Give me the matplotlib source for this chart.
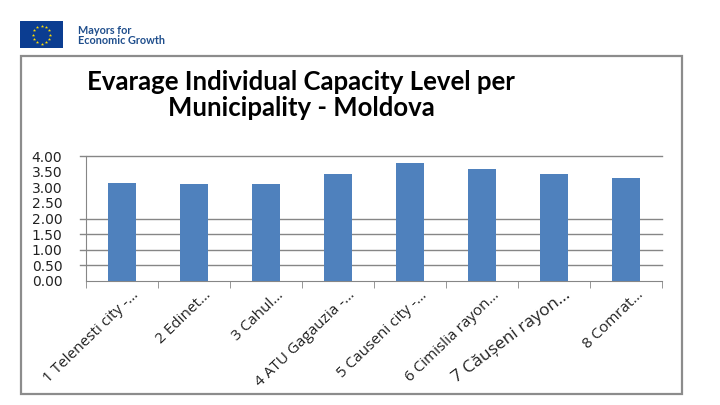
import numpy as np
import matplotlib
matplotlib.use("Agg")
import matplotlib.pyplot as plt
from matplotlib.patches import Rectangle
import matplotlib.transforms as mtransforms

# data
categories = ["1 Telenesti city -…", "2 Edinet…", "3 Cahul…", "4 ATU Gagauzia -…",
              "5 Causeni city -…", "6 Cimislia rayon…", "7 Căușeni rayon…", "8 Comrat…"]
values = [3.15, 3.09, 3.09, 3.41, 3.79, 3.60, 3.41, 3.31]
ytick_vals = [0.0, 0.5, 1.0, 1.5, 2.0, 2.5, 3.0, 3.5, 4.0]
grid_vals = [0.5, 1.0, 1.5, 2.0, 4.0]   # only these lines show in the picture
label_sizes = [11, 11, 11, 11, 11, 11, 12.5, 11]
label_rot = [44, 44, 44, 44, 44, 44, 37, 44]

title = "Evarage Individual Capacity Level per\nMunicipality - Moldova"
bar_color = "#4F81BD"
grid_color = "#868686"

W, H = 720, 405
fig = plt.figure(figsize=(7.2, 4.05), dpi=100)
fig.patch.set_facecolor("white")

def fx(px):
    return px / W

def fy(py):
    return 1 - py / H

# outer chart frame
fig.patches.append(Rectangle((fx(21), fy(394)), fx(682) - fx(21), fy(56) - fy(394),
                             transform=fig.transFigure, fill=False,
                             edgecolor="#8c8c8c", linewidth=1.6))

# logo: EU flag + text
lax = fig.add_axes([fx(20), fy(48), fx(63) - fx(20), fy(21) - fy(48)])
lax.set_xlim(0, 43)
lax.set_ylim(0, 27)
lax.add_patch(Rectangle((0, 0), 43, 27, color="#0b3d91"))
ang = np.linspace(0, 2 * np.pi, 12, endpoint=False)
lax.scatter(21.5 + 9 * np.cos(ang), 13.5 + 9 * np.sin(ang), marker="*", s=6,
            color="#ffdd00", linewidths=0)
lax.axis("off")
fig.text(fx(78), fy(30), "Mayors for", fontsize=7.8, color="#1f4e8c",
         family="Lato", fontweight="bold", va="center", ha="left")
fig.text(fx(78), fy(41), "Economic Growth", fontsize=7.8, color="#1f4e8c",
         family="Lato", fontweight="bold", va="center", ha="left")

# title
fig.text(fx(301), fy(95), title, fontsize=18.5, fontweight="bold", family="Lato",
         ha="center", va="center", linespacing=1.1, color="black")

# plot area
ax = fig.add_axes([fx(86), fy(281), fx(662) - fx(86), fy(156) - fy(281)])
x = np.arange(len(categories))
ax.bar(x, values, width=0.4, color=bar_color, zorder=3)
ax.set_xlim(-0.5, len(categories) - 0.5)
ax.set_ylim(0, 4)

for v in grid_vals:
    ax.axhline(v, xmin=-0.011, xmax=1, color=grid_color, linewidth=1.0,
               clip_on=False, zorder=1)

ax.set_yticks(ytick_vals)
ax.set_yticklabels([f"{v:.2f}" for v in ytick_vals], fontsize=10, family="DejaVu Sans",
                   color="#222222")
ax.tick_params(axis="y", length=0, pad=17)

ax.set_xticks(x)
ax.set_xticklabels([""] * len(categories))
ax.set_xticks(np.arange(-0.5, len(categories)), minor=True)
ax.tick_params(axis="x", which="major", length=0)
ax.tick_params(axis="x", which="minor", length=5, color=grid_color, direction="out")

for s in ["top", "right"]:
    ax.spines[s].set_visible(False)
ax.spines["left"].set_color(grid_color)
ax.spines["bottom"].set_color(grid_color)

offset = mtransforms.ScaledTranslation(15 / 100, -12 / 100, fig.dpi_scale_trans)
for xi, lab, fs, rot in zip(x, categories, label_sizes, label_rot):
    ax.text(xi, 0, lab, transform=ax.get_xaxis_transform() + offset,
            rotation=rot, rotation_mode="anchor", ha="right", va="center",
            fontsize=fs, family="Open Sans", color="#222222")

fig.savefig("out.png", dpi=100, facecolor="white")
